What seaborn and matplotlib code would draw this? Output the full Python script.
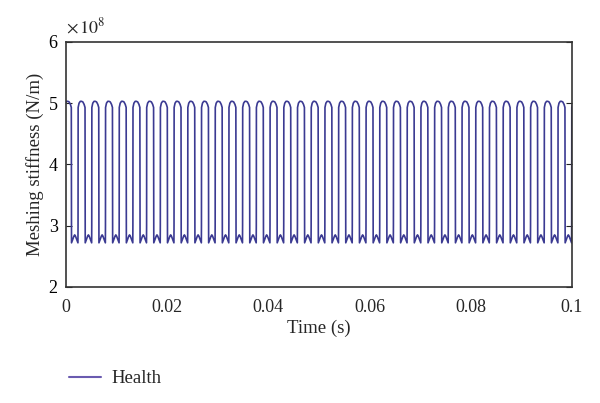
import numpy as np
import pandas as pd
import matplotlib
matplotlib.use("Agg")
import matplotlib.pyplot as plt
import seaborn as sns

# ---- data ----
n_cycles = 38                 # mesh cycles drawn (first one starts just before t=0)
period = 0.002711             # mesh period (s)
first_rise = -0.00033         # time of first rise to double-tooth stiffness (s)
# one mesh cycle: time offsets within the cycle (s) and stiffness (N/m)
cycle_t = [0.0, 0.00002, 0.00020, 0.00045, 0.00070, 0.00095, 0.00120, 0.00138, 0.00140,
           0.00142, 0.00160, 0.00190, 0.00205, 0.00220, 0.00250, 0.00269]
cycle_k = [3.00e8, 4.93e8, 5.00e8, 5.03e8, 5.03e8, 5.02e8, 4.98e8, 4.93e8, 3.50e8,
           2.72e8, 2.76e8, 2.83e8, 2.85e8, 2.83e8, 2.76e8, 2.72e8]
t_max = 0.1

sns.set_theme(style="white")
plt.rcParams['font.family'] = ['Liberation Serif', 'DejaVu Serif']
plt.rcParams['mathtext.fontset'] = 'stix'

times, vals = [], []
for c in range(n_cycles):
    start = first_rise + c * period
    for dt, k in zip(cycle_t, cycle_k):
        times.append(start + dt)
        vals.append(k)
df = pd.DataFrame({"Time": times, "Stiffness": vals})

fig = plt.figure(figsize=(6.0, 4.03), dpi=100)
ax = fig.add_axes([0.11, 0.288, 0.843, 0.608])
sns.lineplot(data=df, x="Time", y="Stiffness", ax=ax, color="#3b3a92",
             linewidth=1.2, sort=False, estimator=None, label="Health")

ax.set_xlim(0, t_max)
ax.set_ylim(2e8, 6e8)
ax.set_xticks([0, 0.02, 0.04, 0.06, 0.08, 0.1])
ax.set_xticklabels(["0", "0.02", "0.04", "0.06", "0.08", "0.1"])
ax.set_yticks([2e8, 3e8, 4e8, 5e8, 6e8])
ax.set_yticklabels(["2", "3", "4", "5", "6"])
ax.tick_params(axis='y', which='both', direction='in', length=4, width=0.8,
               left=True, right=True, labelsize=13, colors='#222222', labelcolor='black', pad=6)
ax.tick_params(axis='x', which='both', bottom=False, top=False, labelsize=13, pad=3)
for s in ax.spines.values():
    s.set_color('#333333')
    s.set_linewidth(1.2)
    s.set_visible(True)

ax.set_xlabel("Time (s)", fontsize=13.5, labelpad=2)
ax.set_ylabel("Meshing stiffness (N/m)", fontsize=13.5, labelpad=3)
ax.text(0.0, 1.02, r"$\times\,10^{8}$", transform=ax.transAxes, fontsize=13,
        ha='left', va='bottom')

leg = ax.legend(loc='center left', bbox_to_anchor=(-0.028, -0.375), frameon=False,
                fontsize=13.5, handlelength=1.7, handletextpad=0.6)
for line in leg.get_lines():
    line.set_color("#6a5bb0")
    line.set_linewidth(1.5)
ax.grid(False)

fig.savefig("out.png", dpi=100)
